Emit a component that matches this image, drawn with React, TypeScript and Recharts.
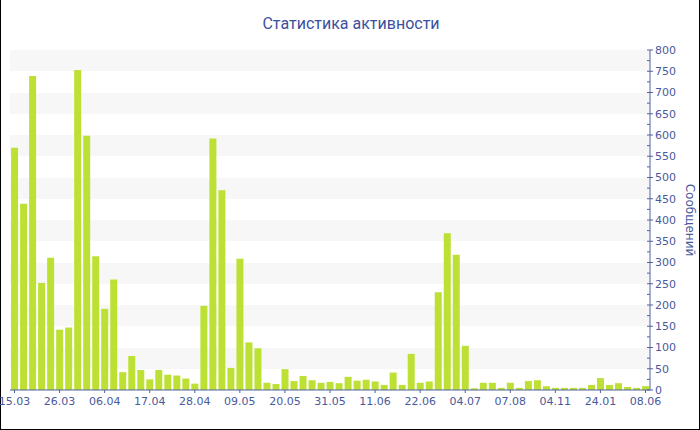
import { BarChart, Bar, XAxis, YAxis, CartesianGrid } from 'recharts'

const dates = [
  '15.03', '17.03', '19.03', '22.03', '24.03',
  '26.03', '28.03', '30.03', '02.04', '04.04',
  '06.04', '08.04', '10.04', '13.04', '15.04',
  '17.04', '19.04', '21.04', '24.04', '26.04',
  '28.04', '30.04', '02.05', '05.05', '07.05',
  '09.05', '11.05', '13.05', '16.05', '18.05',
  '20.05', '22.05', '24.05', '27.05', '29.05',
  '31.05', '02.06', '04.06', '07.06', '09.06',
  '11.06', '13.06', '15.06', '18.06', '20.06',
  '22.06', '24.06', '27.06', '29.06', '01.07',
  '04.07', '10.07', '17.07', '24.07', '31.07',
  '07.08', '25.08', '12.09', '29.09', '17.10',
  '04.11', '20.11', '06.12', '22.12', '08.01',
  '24.01', '20.02', '20.03', '15.04', '12.05',
  '08.06',
]

const messages = [
  570, 438, 739, 252, 311, 142, 147, 753, 598, 315,
  191, 260, 42, 80, 47, 25, 47, 36, 34, 27,
  15, 198, 592, 470, 52, 309, 112, 98, 17, 14,
  49, 21, 33, 23, 17, 19, 16, 31, 22, 24,
  20, 12, 41, 12, 85, 17, 20, 230, 369, 318,
  104, 4, 17, 17, 5, 17, 5, 21, 23, 9,
  5, 5, 5, 5, 12, 28, 12, 16, 7, 5,
  9,
]

const yTicks = [
  0, 25, 50, 75, 100, 125, 150, 175, 200, 225, 250, 275, 300, 325, 350, 375,
  400, 425, 450, 475, 500, 525, 550, 575, 600, 625, 650, 675, 700, 725, 750, 775, 800,
]
const bandValues = [0, 50, 100, 150, 200, 250, 300, 350, 400, 450, 500, 550, 600, 650, 700, 750, 800]

const AXIS = '#5062a4'
const TEXT = '#4a5a9c'
const FONT = '"DejaVu Sans", Verdana, sans-serif'

function YTick(props: any) {
  const { x, y, payload } = props
  const v = payload.value as number
  const major = v % 50 === 0
  const ax = x - 5
  return (
    <g>
      <line x1={ax - 3} x2={major ? ax + 3 : ax} y1={y} y2={y} stroke={AXIS} />
      {major && (
        <text x={x} y={y} dy="0.35em" fill={TEXT} fontSize={11} fontFamily={FONT} textAnchor="start">
          {v}
        </text>
      )}
    </g>
  )
}

export default function App() {
  const data = dates.map((d, i) => ({ date: d, value: messages[i] }))
  return (
    <div
      style={{
        position: 'fixed',
        left: 0,
        top: 0,
        width: 700,
        height: 430,
        boxSizing: 'border-box',
        borderLeft: '1px solid #000',
        borderRight: '1px solid #000',
        borderBottom: '1px solid #000',
        background: '#fff',
      }}
    >
      <div
        style={{
          position: 'absolute',
          top: 14,
          left: 0,
          width: 700,
          textAlign: 'center',
          fontFamily: 'Roboto, sans-serif',
          fontSize: 16,
          color: '#3c4f9e',
        }}
      >
        Статистика активности
      </div>
      <div style={{ position: 'absolute', left: -1, top: 0 }}>
        <BarChart
          width={700}
          height={430}
          data={data}
          margin={{ top: 50, right: 0, bottom: 0, left: 10 }}
          barCategoryGap="12%"
        >
          <CartesianGrid
            vertical={false}
            stroke="none"
            horizontalValues={bandValues}
            horizontalFill={['#f7f7f7', '#ffffff']}
          />
          <XAxis
            dataKey="date"
            interval={4}
            height={40}
            tickSize={3}
            tickMargin={4}
            stroke={AXIS}
            tick={{ fill: TEXT, fontSize: 11, fontFamily: FONT }}
          />
          <YAxis
            orientation="right"
            width={50}
            domain={[0, 800]}
            ticks={yTicks}
            interval={0}
            tickSize={3}
            tickMargin={2}
            tickLine={false}
            stroke={AXIS}
            tick={<YTick />}
            label={{
              value: 'Сообщений',
              angle: 90,
              position: 'insideRight',
              offset: 10,
              textAnchor: 'middle',
              fill: TEXT,
              fontSize: 12,
              fontFamily: FONT,
            }}
          />
          <Bar dataKey="value" fill="#bde034" isAnimationActive={false} />
        </BarChart>
      </div>
    </div>
  )
}
